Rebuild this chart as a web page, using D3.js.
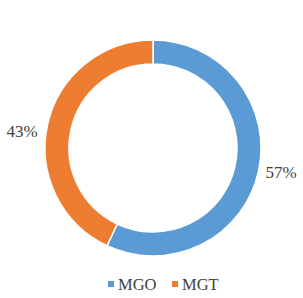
<!DOCTYPE html>
<html>
<head>
<meta charset="utf-8">
<script src="https://cdn.jsdelivr.net/npm/d3@7"></script>
<style>
  body { margin: 0; background: #fff; }
  svg { display: block; }
  text { font-family: "Liberation Serif", "Times New Roman", Times, serif; fill: #404040; }
</style>
</head>
<body>
<svg width="303" height="298"></svg>
<script>
var categories = ["MGO", "MGT"];
var values = [57, 43];
var labels = ["57%", "43%"];
var colors = ["#5B9BD5", "#ED7D31"];

var svg = d3.select("svg"),
    cx = 153, cy = 148,
    outerR = 108, innerR = 84;

var pie = d3.pie().sort(null).value(function(d) { return d; });
var arcs = pie(values);

var arc = d3.arc().innerRadius(innerR).outerRadius(outerR);

var g = svg.append("g").attr("transform", "translate(" + cx + "," + cy + ")");

g.selectAll("path")
    .data(arcs)
    .enter().append("path")
    .attr("d", arc)
    .attr("fill", function(d, i) { return colors[i]; })
    .attr("stroke", "#fff")
    .attr("stroke-width", 1.5);

// data labels sit just outside the ring
var labelPos = [[128, 24], [-131, -17]];

g.selectAll("text.lbl")
    .data(arcs)
    .enter().append("text")
    .attr("class", "lbl")
    .attr("x", function(d, i) { return labelPos[i][0]; })
    .attr("y", function(d, i) { return labelPos[i][1]; })
    .attr("text-anchor", "middle")
    .attr("dominant-baseline", "central")
    .attr("font-size", 17)
    .text(function(d, i) { return labels[i]; });

// legend
var legend = svg.append("g").attr("transform", "translate(0,284)");
var legX = [108, 172];

var item = legend.selectAll("g")
    .data(categories)
    .enter().append("g")
    .attr("transform", function(d, i) { return "translate(" + legX[i] + ",0)"; });

item.append("rect")
    .attr("x", 0).attr("y", -3)
    .attr("width", 6).attr("height", 6)
    .attr("fill", function(d, i) { return colors[i]; });

item.append("text")
    .attr("x", 10)
    .attr("y", 0)
    .attr("dominant-baseline", "central")
    .attr("font-size", 16.5)
    .text(function(d) { return d; });
</script>
</body>
</html>
